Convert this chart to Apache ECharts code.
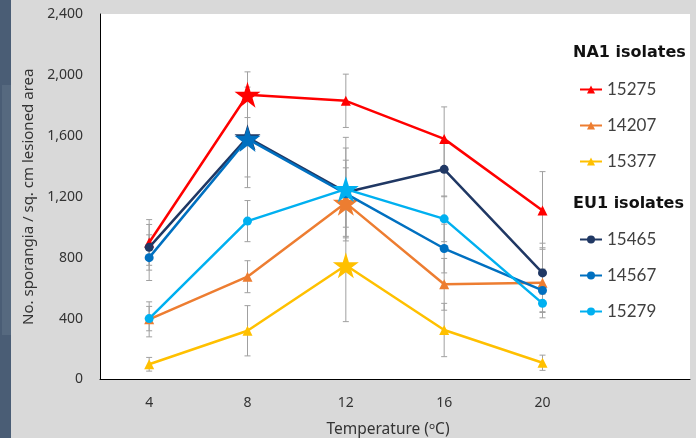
<!DOCTYPE html>
<html><head><meta charset="utf-8">
<script src="https://cdn.jsdelivr.net/npm/echarts@6/dist/echarts.min.js"></script>
<style>html,body{margin:0;padding:0;background:#d9d9d9}#c{width:696px;height:438px}</style>
</head><body><div id="c"></div>
<script>
// ---- data ----
const temperatures = ['4', '8', '12', '16', '20', ''];
const v15275 = [900, 1870, 1830, 1580, 1110];
const err15275 = [150, 150, 175, 210, 255];
const v14207 = [395, 675, 1160, 625, 635];
const err14207 = [115, 105, 230, 170, 230];
const v15377 = [100, 320, 750, 325, 110];
const err15377 = [45, 165, 370, 175, 50];
const v15465 = [868, 1590, 1230, 1380, 700];
const err15465 = [150, 330, 290, 180, 195];
const v14567 = [800, 1580, 1220, 860, 585];
const err14567 = [150, 250, 220, 160, 140];
const v15279 = [400, 1040, 1250, 1055, 500];
const err15279 = [80, 135, 340, 150, 60];
const yMin = 0, yMax = 2400, yStep = 400;

// ---- styling ----
const STAR = 'path://M50,0 L61.2,34.5 L97.6,34.5 L68.2,55.9 L79.4,90.5 L50,69.1 L20.6,90.5 L31.8,55.9 L2.4,34.5 L38.8,34.5 Z';
const defs = [
  {name: '15275', values: v15275, errs: err15275, color: '#ff0000', symbol: 'triangle', star: 1},
  {name: '14207', values: v14207, errs: err14207, color: '#ed7d31', symbol: 'triangle', star: 2},
  {name: '15377', values: v15377, errs: err15377, color: '#ffc000', symbol: 'triangle', star: 2},
  {name: '15465', values: v15465, errs: err15465, color: '#203864', symbol: 'circle', star: 1},
  {name: '14567', values: v14567, errs: err14567, color: '#0070c0', symbol: 'circle', star: 1},
  {name: '15279', values: v15279, errs: err15279, color: '#00b0f0', symbol: 'circle', star: 2}
];

const series = [];
// error bars
defs.forEach(d => {
  series.push({
    type: 'custom', z: 1, silent: true,
    data: d.values.map((v, i) => [i, v, d.errs[i]]),
    renderItem: function (params, api) {
      const i = api.value(0), v = api.value(1), e = api.value(2);
      const top = api.coord([i, v + e]);
      const bot = api.coord([i, v - e]);
      const hw = 3;
      const st = {stroke: '#a0a0a0', lineWidth: 1};
      return {type: 'group', children: [
        {type: 'line', shape: {x1: top[0], y1: top[1], x2: bot[0], y2: bot[1]}, style: st},
        {type: 'line', shape: {x1: top[0] - hw, y1: top[1], x2: top[0] + hw, y2: top[1]}, style: st},
        {type: 'line', shape: {x1: bot[0] - hw, y1: bot[1], x2: bot[0] + hw, y2: bot[1]}, style: st}
      ]};
    }
  });
});
// lines
defs.forEach((d, k) => {
  series.push({
    name: d.name, type: 'line', z: 3 + k,
    symbol: d.symbol, symbolSize: d.symbol === 'circle' ? 9 : 10,
    showAllSymbol: true,
    lineStyle: {color: d.color, width: 2.5},
    itemStyle: {color: d.color},
    emphasis: {disabled: true},
    data: d.values.map((v, i) => i === d.star ? {value: v, symbol: STAR, symbolSize: 26} : v)
  });
});

const chart = echarts.init(document.getElementById('c'), null, {renderer: 'canvas'});
const legendText = {fontFamily: 'Lato', fontSize: 17, color: '#404040'};
chart.setOption({
  backgroundColor: '#d9d9d9',
  animation: false,
  graphic: [
    {type: 'rect', z: -10, shape: {x: 0, y: 0, width: 11, height: 438}, style: {fill: '#4a5d75'}},
    {type: 'rect', z: -9, shape: {x: 2, y: 85, width: 9, height: 250}, style: {fill: '#56697f'}},
    {type: 'rect', z: -10, shape: {x: 100, y: 14, width: 590, height: 366}, style: {fill: '#ffffff'}},
    {type: 'text', left: 573, top: 45, style: {text: 'NA1 isolates', font: 'bold 16px "DejaVu Sans"', fill: '#111'}},
    {type: 'text', left: 573, top: 196, style: {text: 'EU1 isolates', font: 'bold 16px "DejaVu Sans"', fill: '#111'}}
  ],
  grid: {left: 100, right: 6, top: 14, bottom: 58.5, containLabel: false, outerBoundsMode: 'none'},
  legend: [
    {orient: 'vertical', left: 574, top: 76, itemGap: 19, itemWidth: 22, itemHeight: 10,
     data: ['15275', '14207', '15377'], textStyle: legendText, selectedMode: false},
    {orient: 'vertical', left: 574, top: 226, itemGap: 19, itemWidth: 22, itemHeight: 10,
     data: ['15465', '14567', '15279'], textStyle: legendText, selectedMode: false}
  ],
  xAxis: {
    type: 'category', data: temperatures, boundaryGap: true,
    axisLine: {lineStyle: {color: '#000', width: 1}},
    axisTick: {show: false},
    axisLabel: {fontFamily: 'Noto Sans', fontSize: 14, color: '#333', margin: 17},
    name: 'Temperature (ᵒC)', nameLocation: 'middle', nameGap: 42,
    nameTextStyle: {fontFamily: 'Noto Sans', fontSize: 15.5, color: '#333', padding: [0, 14, 0, 0]}
  },
  yAxis: {
    type: 'value', min: yMin, max: yMax, interval: yStep,
    axisLine: {show: true, lineStyle: {color: '#000', width: 1}},
    axisTick: {show: false},
    splitLine: {show: false},
    axisLabel: {fontFamily: 'Noto Sans', fontSize: 14, color: '#333', margin: 17,
      formatter: v => v.toLocaleString('en-US')},
    name: 'No. sporangia / sq. cm lesioned area', nameLocation: 'middle', nameGap: 52,
    nameTextStyle: {fontFamily: 'Noto Sans', fontSize: 15, color: '#333'}
  },
  series: series
});
</script></body></html>
